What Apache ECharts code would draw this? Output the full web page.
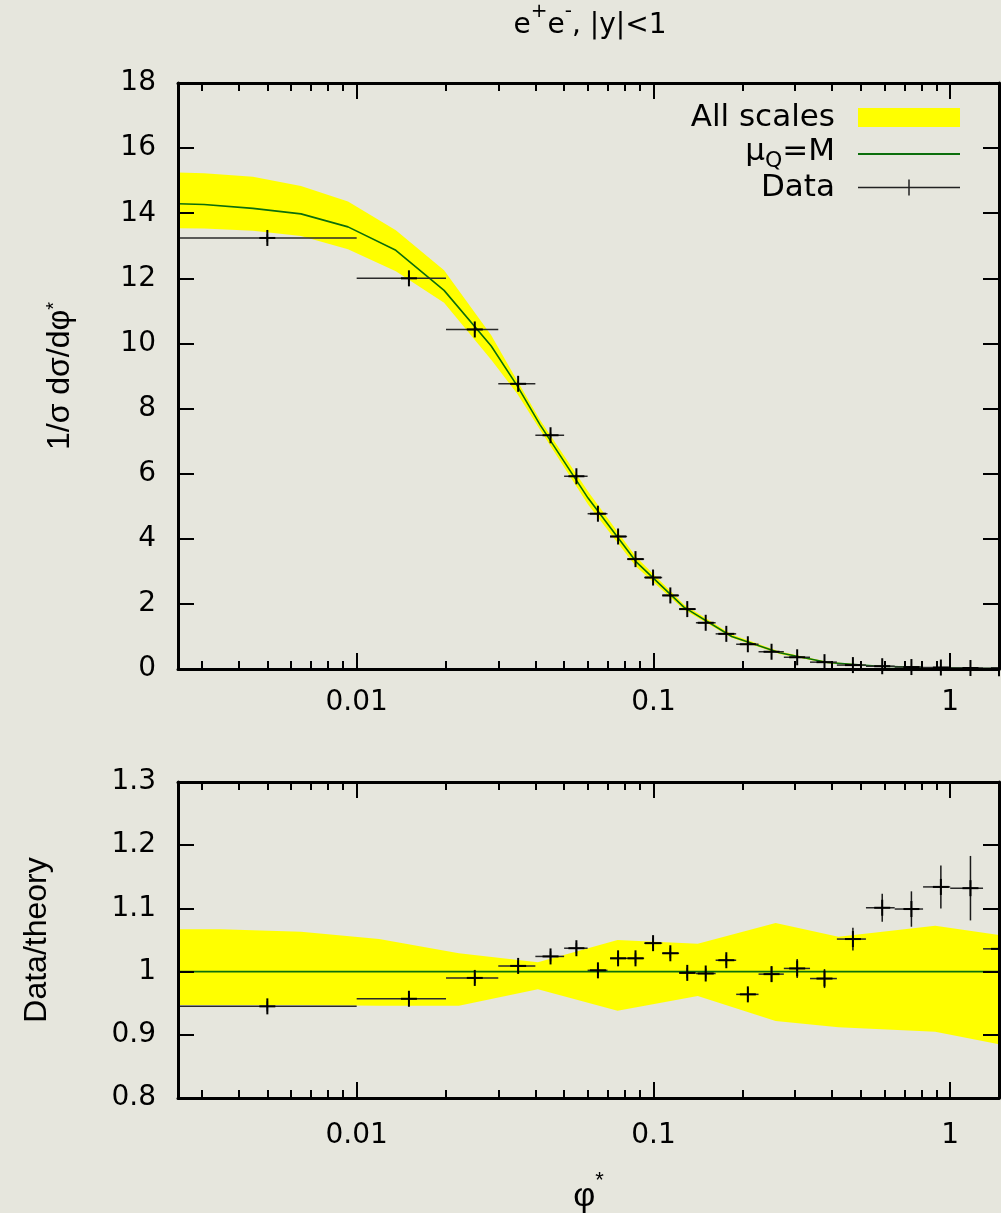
<!DOCTYPE html>
<html><head><meta charset="utf-8">
<script src="https://cdn.jsdelivr.net/npm/echarts@6/dist/echarts.min.js"></script>
<style>html,body{margin:0;padding:0;background:#e6e6dd;}#c{width:1001px;height:1213px;}</style>
</head><body><div id="c"></div>
<script>
// ---------- axis settings ----------
const X_MIN = 0.0025, X_MAX = 1.46;
const xMajorTicks = [0.01, 0.1, 1];
const xMinorTicks = [0.003,0.004,0.005,0.006,0.007,0.008,0.009,0.02,0.03,0.04,0.05,0.06,0.07,0.08,0.09,0.2,0.3,0.4,0.5,0.6,0.7,0.8,0.9];

// ---------- data (phi* bins) ----------
const dataX = [0.005,0.015,0.025,0.035,0.045,0.055,0.065,0.076,0.087,0.0997,0.114,0.13,0.15,0.176,0.208,0.25,0.305,0.377,0.47,0.59,0.74,0.93,1.17,1.46];
const binLo = [0,0.01,0.02,0.03,0.04,0.05,0.06,0.0715,0.0815,0.093,0.107,0.122,0.139,0.162,0.19,0.226,0.275,0.337,0.415,0.52,0.65,0.81,1.0,1.29];
const binHi = [0.01,0.02,0.03,0.04,0.05,0.06,0.07,0.0815,0.093,0.107,0.122,0.139,0.162,0.19,0.226,0.275,0.337,0.415,0.52,0.65,0.81,1.0,1.29,1.65];
const dataY = [13.24,12.0,10.43,8.76,7.18,5.92,4.77,4.07,3.375,2.81,2.26,1.84,1.42,1.08,0.76,0.53,0.36,0.21,0.12,0.085,0.06,0.045,0.03,0.02];
const dataErr = [0.12,0.12,0.1,0.09,0.08,0.07,0.06,0.05,0.05,0.04,0.04,0.03,0.03,0.02,0.02,0.01,0.01,0.005,0.004,0.003,0.002,0.002,0.002,0.001];
const ratioY = [0.945,0.957,0.99,1.009,1.024,1.037,1.002,1.021,1.021,1.045,1.029,0.998,0.997,1.018,0.964,0.996,1.005,0.989,1.0515,1.101,1.099,1.134,1.132,1.036];
const ratioErr = [0.008,0.008,0.008,0.008,0.008,0.008,0.008,0.008,0.008,0.008,0.008,0.008,0.008,0.008,0.01,0.012,0.015,0.015,0.018,0.022,0.028,0.034,0.051,0.06];

// ---------- theory (mu_Q = M) and scale band ----------
const theoryX = [0.0025,0.00306,0.00447,0.00649,0.00935,0.01355,0.0197,0.0284,0.0348,0.0415,0.0602,0.0873,0.1266,0.1836,0.266,0.386,0.56,0.81,1.18,1.46];
const theoryY = [14.29,14.27,14.15,13.98,13.58,12.86,11.63,9.92,8.69,7.5,5.25,3.3,1.9,1.0,0.5,0.2,0.09,0.045,0.022,0.015];
const bandLo  = [13.54,13.53,13.46,13.30,12.89,12.22,11.25,9.5,8.45,7.35,5.05,3.15,1.83,0.96,0.46,0.18,0.08,0.04,0.02,0.013];
const bandHi  = [15.25,15.23,15.12,14.84,14.36,13.48,12.25,10.25,8.85,7.65,5.45,3.45,1.98,1.06,0.54,0.22,0.1,0.05,0.024,0.017];

const ratioLineX = [0.0025, 1.46];
const ratioLineY = [1, 1];
const ratioBandX  = [0.0025,0.00349,0.00649,0.0119,0.0221,0.0408,0.0757,0.141,0.258,0.42,0.89,1.46];
const ratioBandHi = [1.067,1.067,1.063,1.0515,1.029,1.0147,1.05,1.044,1.077,1.055,1.0725,1.058];
const ratioBandLo = [0.947,0.947,0.947,0.946,0.946,0.972,0.938,0.9615,0.922,0.912,0.905,0.885];

const topYTicks = {min: 0, max: 18, interval: 2};
const botYTicks = {min: 0.8, max: 1.3, interval: 0.1};

// ---------- styling ----------
const BG = '#e6e6dd', YEL = '#ffff00', GRN = '#0b6e0b', INK = '#000';
const TICKFONT = 'DejaVu Sans', NAMEFONT = 'Liberation Sans';

function bandRender(xs, lo, hi) {
  return function (params, api) {
    if (params.dataIndex !== 0) return null;
    const pts = [];
    for (let i = 0; i < xs.length; i++) pts.push(api.coord([xs[i], hi[i]]));
    for (let i = xs.length - 1; i >= 0; i--) pts.push(api.coord([xs[i], lo[i]]));
    return {type: 'polygon', shape: {points: pts}, style: {fill: YEL, stroke: null}};
  };
}
function errRender(params, api) {
  const x = api.value(0), y = api.value(1);
  const lo = Math.max(api.value(2), X_MIN), hi = Math.min(api.value(3), X_MAX), e = api.value(4);
  const c = api.coord([x, y]);
  const l = api.coord([lo, y]), r = api.coord([hi, y]);
  const t = api.coord([x, y + e]), b = api.coord([x, y - e]);
  const m = 8;
  return {type: 'group', children: [
    {type: 'line', shape: {x1: l[0], y1: c[1], x2: r[0], y2: c[1]}, style: {stroke: '#2a2a2a', lineWidth: 1.5}},
    {type: 'line', shape: {x1: c[0], y1: t[1], x2: c[0], y2: b[1]}, style: {stroke: '#1a1a1a', lineWidth: 1.5}},
    {type: 'line', shape: {x1: c[0] - m, y1: c[1], x2: c[0] + m, y2: c[1]}, style: {stroke: INK, lineWidth: 2}},
    {type: 'line', shape: {x1: c[0], y1: c[1] - m, x2: c[0], y2: c[1] + m}, style: {stroke: INK, lineWidth: 2}}
  ]};
}

function xAxes(gridIndex, labelMargin, name) {
  const base = {type: 'log', logBase: 10, gridIndex, min: X_MIN, max: X_MAX, z: 10, splitLine: {show: false}};
  return [
    Object.assign({}, base, {position: 'bottom',
      axisLine: {show: true, lineStyle: {color: INK, width: 3}},
      axisTick: {show: true, inside: true, length: 16, lineStyle: {color: INK, width: 2}, customValues: xMajorTicks},
      axisLabel: {show: true, customValues: xMajorTicks, color: INK, fontFamily: TICKFONT, fontSize: 28, margin: labelMargin,
        formatter: v => String(+v.toPrecision(3))},
      name: name || '', nameLocation: 'middle', nameGap: 72,
      nameTextStyle: {fontFamily: NAMEFONT, fontSize: 34, color: INK,
        rich: {m: {fontFamily: NAMEFONT, fontSize: 34, verticalAlign: 'bottom', lineHeight: 44},
               sup: {fontFamily: NAMEFONT, fontSize: 22, verticalAlign: 'top', lineHeight: 22}}}}),
    Object.assign({}, base, {position: 'bottom',
      axisLine: {show: false},
      axisTick: {show: true, inside: true, length: 8, lineStyle: {color: INK, width: 2}, customValues: xMinorTicks},
      axisLabel: {show: false}}),
    Object.assign({}, base, {position: 'top',
      axisLine: {show: true, lineStyle: {color: INK, width: 3}},
      axisTick: {show: true, inside: true, length: 16, lineStyle: {color: INK, width: 2}, customValues: xMajorTicks},
      axisLabel: {show: false}}),
    Object.assign({}, base, {position: 'top',
      axisLine: {show: false},
      axisTick: {show: true, inside: true, length: 8, lineStyle: {color: INK, width: 2}, customValues: xMinorTicks},
      axisLabel: {show: false}})
  ];
}
function yAxes(gridIndex, ticks, name, nameGap) {
  const base = {type: 'value', gridIndex, min: ticks.min, max: ticks.max, interval: ticks.interval, z: 10,
    splitLine: {show: false},
    axisLine: {show: true, lineStyle: {color: INK, width: 3}},
    axisTick: {show: true, inside: true, length: 16, lineStyle: {color: INK, width: 2}}};
  return [
    Object.assign({}, base, {position: 'left',
      axisLabel: {show: true, color: INK, fontFamily: TICKFONT, fontSize: 28, margin: 22,
        formatter: v => String(+v.toFixed(2))},
      name, nameLocation: 'middle', nameRotate: 90, nameGap,
      nameTextStyle: {fontFamily: NAMEFONT, fontSize: 32, color: INK,
        rich: {m: {fontFamily: NAMEFONT, fontSize: 32, verticalAlign: 'bottom', lineHeight: 32},
               sup: {fontFamily: NAMEFONT, fontSize: 20, verticalAlign: 'top', lineHeight: 20}}}}),
    Object.assign({}, base, {position: 'right', axisLabel: {show: false}})
  ];
}

const chart = echarts.init(document.getElementById('c'), null, {renderer: 'canvas'});
const legendCommon = {orient: 'vertical', right: 41, padding: 0, align: 'right', selectedMode: false,
  itemWidth: 102, textStyle: {fontFamily: TICKFONT, fontSize: 31, color: INK, padding: [0, 18, 0, 0]}};

chart.setOption({
  backgroundColor: BG,
  animation: false,
  title: {text: '{m|e}{sup|+}{m|e}{sup|-}{m|, |y|<1}', left: 585, top: 0, padding: [2, 5, 5, 5], textAlign: 'center',
    textStyle: {fontFamily: TICKFONT, fontSize: 28, color: INK, fontWeight: 'normal',
      rich: {m: {fontFamily: TICKFONT, fontSize: 28, verticalAlign: 'bottom', lineHeight: 38},
             sup: {fontFamily: TICKFONT, fontSize: 20, verticalAlign: 'top', lineHeight: 20}}}},
  legend: [
    Object.assign({}, legendCommon, {top: 102, itemHeight: 19, data: [{name: 'All scales', icon: 'rect'}],
      itemStyle: {color: YEL, borderWidth: 0}}),
    Object.assign({}, legendCommon, {top: 136, itemHeight: 2, data: [{name: 'μQ=M', icon: 'rect'}],
      itemStyle: {color: GRN, borderWidth: 0},
      formatter: () => '{m|μ}{s|Q}{m|=M}',
      textStyle: Object.assign({}, legendCommon.textStyle, {rich: {
        m: {fontFamily: TICKFONT, fontSize: 31, verticalAlign: 'top', lineHeight: 31},
        s: {fontFamily: TICKFONT, fontSize: 22, verticalAlign: 'bottom', lineHeight: 36}}})}),
    Object.assign({}, legendCommon, {top: 172, itemHeight: 16,
      data: [{name: 'Data', icon: 'path://M0,7.25h102v1.5h-102zM50.25,0h1.5v16h-1.5z'}],
      itemStyle: {color: '#222', borderWidth: 0}})
  ],
  grid: [
    {left: 178, right: 2, top: 83, height: 586, outerBoundsMode: 'none', containLabel: false},
    {left: 178, right: 2, top: 782, height: 316, outerBoundsMode: 'none', containLabel: false}
  ],
  xAxis: [].concat(xAxes(0, 20), xAxes(1, 24, '{m|φ}{sup|*}')),
  yAxis: [].concat(yAxes(0, topYTicks, '{m|1/σ dσ/dφ}{sup|*}', 102), yAxes(1, botYTicks, '{m|Data/theory}', 125)),
  series: [
    {name: 'All scales', type: 'custom', xAxisIndex: 0, yAxisIndex: 0, z: 1, color: YEL,
      renderItem: bandRender(theoryX, bandLo, bandHi), encode: {x: 0, y: [1, 2]},
      data: theoryX.map((x, i) => [x, bandLo[i], bandHi[i]])},
    {name: 'μQ=M', type: 'line', xAxisIndex: 0, yAxisIndex: 0, z: 2, color: GRN, symbol: 'none', showSymbol: false,
      lineStyle: {color: GRN, width: 1.6}, data: theoryX.map((x, i) => [x, theoryY[i]])},
    {name: 'Data', type: 'custom', xAxisIndex: 0, yAxisIndex: 0, z: 3, color: '#222',
      renderItem: errRender, encode: {x: 0, y: 1},
      data: dataX.map((x, i) => [x, dataY[i], binLo[i], binHi[i], dataErr[i]])},
    {name: 'ratioBand', type: 'custom', xAxisIndex: 4, yAxisIndex: 2, z: 1, color: YEL,
      renderItem: bandRender(ratioBandX, ratioBandLo, ratioBandHi), encode: {x: 0, y: [1, 2]},
      data: ratioBandX.map((x, i) => [x, ratioBandLo[i], ratioBandHi[i]])},
    {name: 'ratioLine', type: 'line', xAxisIndex: 4, yAxisIndex: 2, z: 2, color: GRN, symbol: 'none', showSymbol: false,
      lineStyle: {color: GRN, width: 1.6}, data: ratioLineX.map((x, i) => [x, ratioLineY[i]])},
    {name: 'ratioData', type: 'custom', xAxisIndex: 4, yAxisIndex: 2, z: 3, color: '#222',
      renderItem: errRender, encode: {x: 0, y: 1},
      data: dataX.map((x, i) => [x, ratioY[i], binLo[i], binHi[i], ratioErr[i]])}
  ]
});
</script></body></html>
